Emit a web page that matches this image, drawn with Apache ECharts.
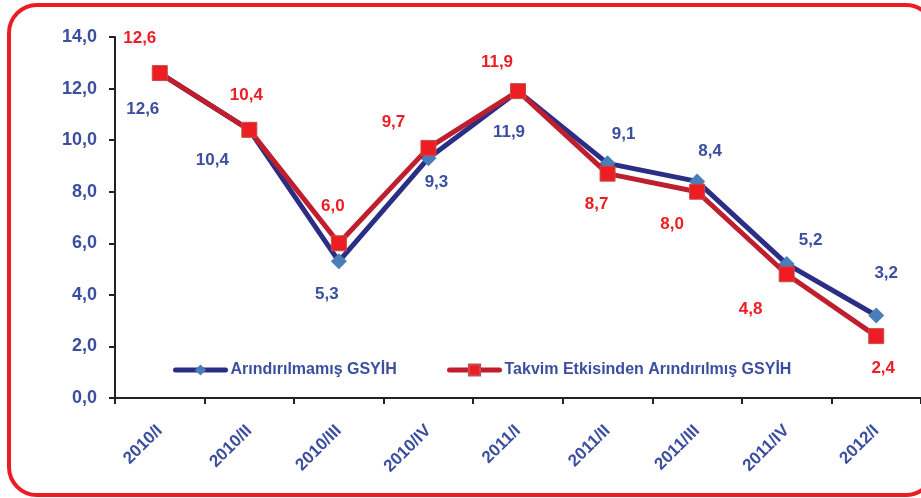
<!DOCTYPE html>
<html>
<head>
<meta charset="utf-8">
<script src="https://cdn.jsdelivr.net/npm/echarts@6/dist/echarts.min.js"></script>
<style>
  html, body { margin: 0; padding: 0; background: #fff; }
  #main { width: 921px; height: 498px; }
</style>
</head>
<body>
<div id="main"></div>
<script>
// kategoriler ve seriler
var categories = ['2010/I', '2010/II', '2010/III', '2010/IV', '2011/I', '2011/II', '2011/III', '2011/IV', '2012/I'];
var rawGdp = [12.6, 10.4, 5.3, 9.3, 11.9, 9.1, 8.4, 5.2, 3.2];
var calendarAdjGdp = [12.6, 10.4, 6.0, 9.7, 11.9, 8.7, 8.0, 4.8, 2.4];
var yTicks = [0, 2, 4, 6, 8, 10, 12, 14];
var seriesNames = ['Arındırılmamış GSYİH', 'Takvim Etkisinden Arındırılmış GSYİH'];

// etiket kaydırmaları (nokta merkezine göre)
var rawOffsets = [[-17, 36], [-37, 30], [-12, 33], [8, 24], [-9, 41], [16, -29], [13, -30], [24, -24], [10, -42]];
var adjOffsets = [[-20, -35], [-3, -35], [-6, -37], [-35, -26], [-21, -29], [-11, 31], [-25, 33], [-36, 35], [7, 32]];

var BLUE_TXT = '#3b4ea0';
var RED_TXT = '#ee1d24';
var FONT = '"Liberation Sans", Arial, sans-serif';

function fmt(v) { return v.toFixed(1).replace('.', ','); }

function buildData(values, offsets, color) {
    return values.map(function (v, i) {
        return {
            value: v,
            label: {
                show: true,
                position: 'inside',
                offset: offsets[i],
                formatter: function (p) { return fmt(p.value); },
                color: color,
                fontSize: 17,
                fontWeight: 'bold',
                fontFamily: FONT
            }
        };
    });
}

function legendAt(left, name) {
    return {
        left: left,
        top: 357,
        itemWidth: 50,
        itemHeight: 14,
        lineStyle: { width: 5, cap: 'round' },
        textStyle: { color: BLUE_TXT, fontSize: 16, fontWeight: 'bold', fontFamily: FONT },
        data: [name]
    };
}

var myChart = echarts.init(document.getElementById('main'));
var options = {
    animation: false,
    backgroundColor: '#fff',
    graphic: [{
        type: 'rect',
        shape: { x: 9, y: 5, width: 925, height: 490, r: 28 },
        style: { fill: 'none', stroke: '#ed1c24', lineWidth: 4 },
        z: 100
    }],
    grid: { left: 115, right: -8, top: 37, bottom: 100 },
    legend: [legendAt(168, seriesNames[0]), legendAt(442, seriesNames[1])],
    xAxis: {
        type: 'category',
        data: categories,
        boundaryGap: true,
        axisLine: { lineStyle: { color: '#222', width: 2 } },
        axisTick: { show: true, length: 6, lineStyle: { color: '#222', width: 2 } },
        axisLabel: {
            rotate: 45,
            margin: 30,
            color: BLUE_TXT,
            fontSize: 17,
            fontWeight: 'bold',
            fontFamily: FONT
        }
    },
    yAxis: {
        type: 'value',
        min: yTicks[0],
        max: yTicks[yTicks.length - 1],
        interval: 2,
        splitLine: { show: false },
        axisLine: { show: true, lineStyle: { color: '#222', width: 2 } },
        axisTick: { show: true, length: 6, lineStyle: { color: '#222', width: 2 } },
        axisLabel: {
            margin: 18,
            color: BLUE_TXT,
            fontSize: 18,
            fontWeight: 'bold',
            fontFamily: FONT,
            formatter: function (v) { return fmt(v); }
        }
    },
    series: [{
        name: seriesNames[0],
        type: 'line',
        data: buildData(rawGdp, rawOffsets, BLUE_TXT),
        symbol: 'diamond',
        symbolSize: 16,
        lineStyle: { color: '#2b2e85', width: 5 },
        itemStyle: { color: '#4a7ebb', borderColor: '#4a7ebb', borderWidth: 0 },
        z: 2
    }, {
        name: seriesNames[1],
        type: 'line',
        data: buildData(calendarAdjGdp, adjOffsets, RED_TXT),
        symbol: 'rect',
        symbolSize: 15,
        lineStyle: { color: '#be1e2d', width: 5 },
        itemStyle: { color: '#ee1d24', borderColor: '#c0504d', borderWidth: 1 },
        z: 3
    }]
};
myChart.setOption(options, true);
</script>
</body>
</html>
